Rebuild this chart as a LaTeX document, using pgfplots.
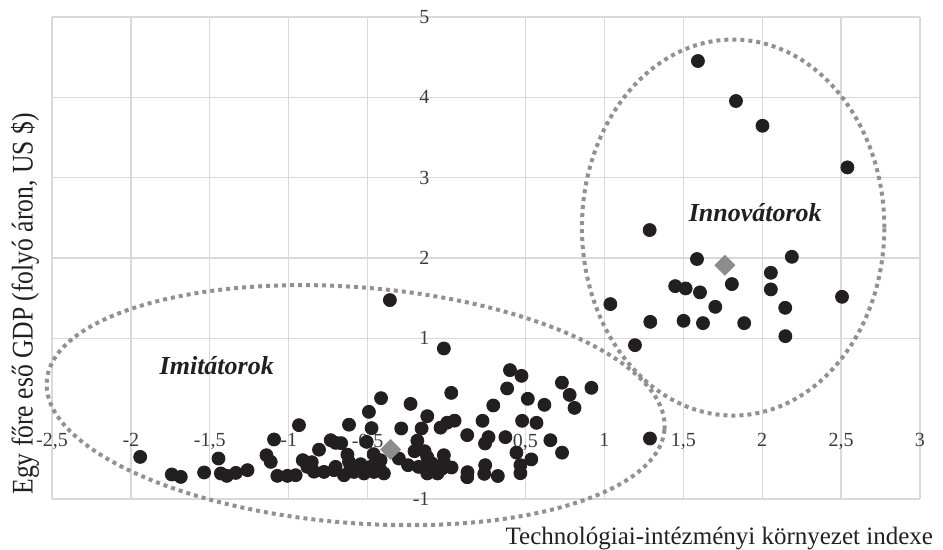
\documentclass[border=0pt]{standalone}
\usepackage{pgfplots}
\pgfplotsset{compat=1.18}
\usepackage{fontspec}
\setmainfont{Liberation Serif}
\definecolor{ptcol}{RGB}{35,31,32}
\definecolor{gridcol}{RGB}{217,217,217}
\definecolor{elcol}{RGB}{145,145,145}
\definecolor{diacol}{RGB}{140,140,140}
\definecolor{tickcol}{RGB}{60,60,60}
\pgfplotstableread{
x y
-1.941 -0.476
-1.741 -0.695
-1.684 -0.725
-1.536 -0.670
-1.445 -0.496
-1.430 -0.682
-1.392 -0.712
-1.335 -0.675
-1.261 -0.641
-1.093 -0.259
-1.141 -0.455
-1.114 -0.538
-1.072 -0.712
-1.008 -0.712
-0.956 -0.704
-0.935 -0.081
-0.911 -0.517
-0.882 -0.600
-0.854 -0.542
-0.840 -0.660
-0.808 -0.386
-0.777 -0.663
-0.713 -0.641
-0.703 -0.301
-0.734 -0.268
-0.668 -0.305
-0.650 -0.704
-0.703 -0.600
-0.628 -0.448
-0.618 -0.075
-0.618 -0.538
-0.608 -0.600
-0.587 -0.663
-0.544 -0.567
-0.544 -0.641
-0.523 -0.682
-0.506 -0.289
-0.492 0.085
-0.475 -0.118
-0.462 -0.442
-0.460 -0.663
-0.481 -0.600
-0.415 0.255
-0.418 -0.517
-0.418 -0.641
-0.397 -0.682
-0.302 -0.496
-0.287 -0.122
-0.244 -0.579
-0.228 0.184
-0.203 -0.405
-0.185 -0.274
-0.177 -0.600
-0.158 -0.122
-0.122 0.031
-0.139 -0.405
-0.122 -0.479
-0.122 -0.682
-0.101 -0.620
-0.095 -0.554
-0.057 -0.682
-0.038 -0.112
-0.027 -0.620
-0.017 -0.455
-0.017 -0.542
0.004 -0.050
0.032 -0.608
0.051 -0.025
0.030 0.321
-0.017 0.874
-0.359 1.476
0.131 -0.205
0.228 -0.027
0.296 0.164
0.384 0.376
0.402 0.604
0.475 0.533
0.515 0.247
0.620 0.172
0.731 0.448
0.780 0.296
0.918 0.384
0.811 0.134
0.479 -0.027
0.570 -0.052
0.266 -0.230
0.244 -0.309
0.373 -0.230
0.658 -0.268
0.732 -0.423
0.443 -0.423
0.537 -0.507
0.468 -0.579
0.468 -0.679
0.245 -0.579
0.239 -0.687
0.325 -0.714
0.133 -0.666
0.131 -0.729
}\imitators
\pgfplotstableread{
x y
1.593 4.452
1.834 3.954
2.002 3.646
2.540 3.128
1.287 2.348
1.587 1.987
2.188 2.015
2.055 1.816
2.055 1.609
1.449 1.650
1.515 1.621
1.606 1.572
1.808 1.675
2.506 1.517
1.038 1.426
1.703 1.392
2.146 1.380
1.291 1.205
1.502 1.218
1.625 1.189
1.886 1.189
1.194 0.915
2.147 1.027
1.289 -0.247
}\innovators
\pgfplotstableread{
x y
-0.354 -0.384
1.764 1.910
}\centroids
\begin{document}
\begin{tikzpicture}
\begin{axis}[
  at={(0pt,0pt)}, anchor=south west,
  scale only axis, width=434pt, height=241pt,
  xmin=-2.5, xmax=3, ymin=-1, ymax=5,
  axis lines=middle, axis line style={draw=none,-},
  xtick={-2.5,-2,-1.5,-1,-0.5,0,0.5,1,1.5,2,2.5,3},
  xticklabels={{-2,5},{-2},{-1,5},{-1},{-0,5},{0},{0,5},{1},{1,5},{2},{2,5},{3}},
  ytick={-1,0,1,2,3,4,5},
  yticklabels={{-1},{},{1},{2},{3},{4},{5}},
  major tick length=0pt,
  grid=major,
  major grid style={draw=gridcol, line width=0.6pt},
  xticklabel style={font=\fontsize{10}{12}\selectfont, text=tickcol, yshift=-4pt},
  yticklabel style={font=\fontsize{10}{12}\selectfont, text=tickcol, xshift=-5pt},
  clip=false,
]
\addplot[only marks, mark=*, mark size=3.25pt, color=ptcol] table {\imitators};
\addplot[only marks, mark=*, mark size=3.25pt, color=ptcol] table {\innovators};
\addplot[only marks, mark=square*, mark size=3.5pt, color=diacol, mark options={rotate=45}] table {\centroids};
\coordinate (imc) at (axis cs:-0.576,0.168);
\coordinate (inc) at (axis cs:1.816,2.379);
\node[font=\fontsize{13}{15}\selectfont\bfseries\itshape, text=ptcol] at (axis cs:-1.456,0.666) {Imitátorok};
\node[font=\fontsize{13}{15}\selectfont\bfseries\itshape, text=ptcol] at (axis cs:1.956,2.56) {Innovátorok};
\end{axis}
\draw[elcol, line width=2pt, dash pattern=on 2pt off 2pt] (imc) ellipse [x radius=154.9pt, y radius=58.95pt, rotate=-4.5];
\draw[elcol, line width=2pt, dash pattern=on 2pt off 2pt] (inc) ellipse [x radius=75.6pt, y radius=94pt];
\node[rotate=90, anchor=base, font=\fontsize{12.8}{15}\selectfont, text=ptcol] at (-9.65pt,97.5pt) {\scalebox{1}[1.17]{Egy főre eső GDP (folyó áron, US \$)}};
\node[anchor=base east, font=\fontsize{12.5}{15}\selectfont, text=ptcol] at (444pt,-23pt) {Technológiai-intézményi környezet indexe};
\pgfresetboundingbox
\useasboundingbox (-26pt,-25.5pt) rectangle (445.5pt,249.5pt);
\end{tikzpicture}
\end{document}
